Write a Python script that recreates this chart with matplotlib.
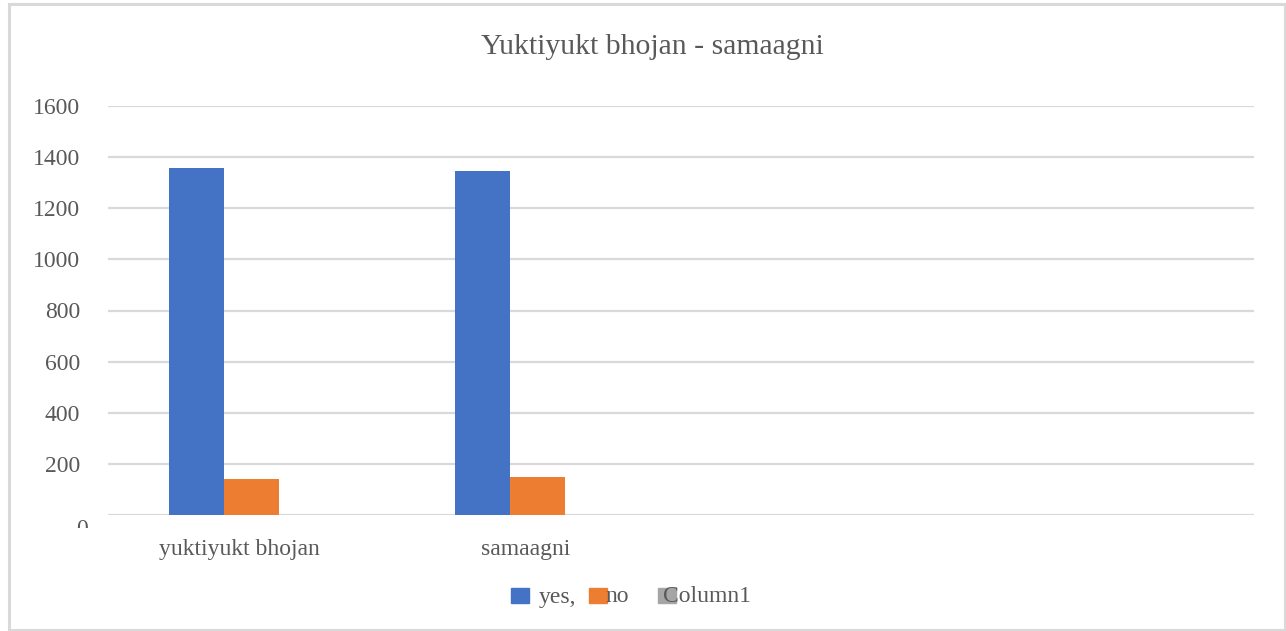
import matplotlib
matplotlib.use("Agg")
import matplotlib.pyplot as plt
from matplotlib.patches import Rectangle
from matplotlib.transforms import Bbox, ScaledTranslation
import numpy as np

categories = ["yuktiyukt bhojan", "samaagni", "", ""]
yes_vals = [1356, 1347, 0, 0]
no_vals = [140, 149, 0, 0]
col1_vals = [0, 0, 0, 0]
series_names = ["yes,", "no", "Column1"]
yticks = [0, 200, 400, 600, 800, 1000, 1200, 1400, 1600]

BLUE = "#4472C4"
ORANGE = "#ED7D31"
GRAY = "#A5A5A5"
TXT = "#595959"
GRID = "#D9D9D9"

plt.rcParams["font.family"] = ["Liberation Serif", "DejaVu Serif"]

W, H = 1286, 631
fig = plt.figure(figsize=(W / 100, H / 100), dpi=100)

def fx(px):
    return px / W

def fy(py):
    return 1 - py / H

# rahmen um das diagramm
fig.patches.append(Rectangle((fx(9), fy(630)), fx(1285) - fx(9), fy(4) - fy(630),
                             transform=fig.transFigure, fill=False,
                             edgecolor=GRID, linewidth=2.2))

ax = fig.add_axes([fx(108), fy(515), fx(1254) - fx(108), fy(106) - fy(515)])

x = np.arange(len(categories))
bw = 0.192
ax.bar(x - bw, yes_vals, bw, color=BLUE, label=series_names[0])
ax.bar(x, no_vals, bw, color=ORANGE, label=series_names[1])
ax.bar(x + bw, col1_vals, bw, color=GRAY, label=series_names[2])

ax.set_xlim(-0.5, len(categories) - 0.5)
ax.set_ylim(0, 1600)
ax.set_yticks(yticks)
ax.yaxis.grid(True, color=GRID, linewidth=1.6)
ax.set_axisbelow(True)
for s in ax.spines.values():
    s.set_visible(False)
ax.tick_params(axis="both", length=0, labelsize=17, colors=TXT)
ax.tick_params(axis="y", pad=20)
ax.tick_params(axis="x", pad=17)
ax.set_xticks(x)
ax.set_xticklabels(categories)
off = ScaledTranslation(-12 / 100, 0, fig.dpi_scale_trans)
for lbl in ax.get_xticklabels():
    lbl.set_transform(lbl.get_transform() + off)

# die 0 sitzt tiefer und ist unten abgeschnitten
lbl0 = ax.yaxis.get_major_ticks()[0].label1
lbl0.set_transform(lbl0.get_transform() + ScaledTranslation(8 / 100, -12 / 100, fig.dpi_scale_trans))
lbl0.set_clip_box(Bbox.from_extents(0, H - 528, W, H))
lbl0.set_clip_on(True)

fig.text(fx(652), fy(47), "Yuktiyukt bhojan - samaagni", ha="center", va="center",
         fontsize=21.4, color=TXT)

# legende von hand, wie im original (kaestchen ueberlappen den text)
legend_items = [(BLUE, 511, 539), (ORANGE, 589, 605), (GRAY, 658, 663)]
for (col, sx, tx), name in zip(legend_items, series_names):
    fig.patches.append(Rectangle((fx(sx), fy(603)), fx(18), fy(588) - fy(603),
                                 transform=fig.transFigure, color=col))
    fig.text(fx(tx), fy(597), name, ha="left", va="center", fontsize=17, color=TXT)

fig.savefig("out.png", dpi=100)
